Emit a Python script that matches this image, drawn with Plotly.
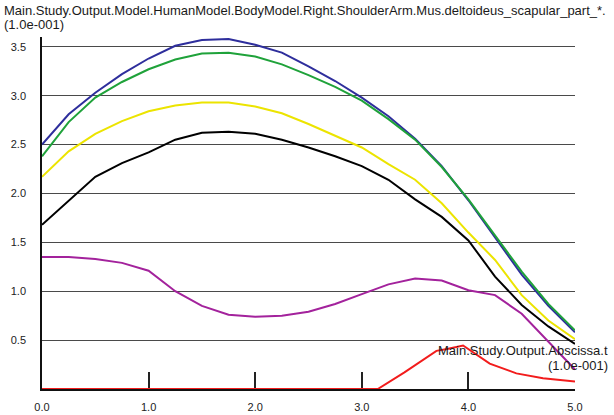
import plotly.graph_objects as go

# Time samples (1.0e-001 s)
t = [0.0, 0.25, 0.5, 0.75, 1.0, 1.25, 1.5, 1.75, 2.0, 2.25, 2.5,
     2.75, 3.0, 3.25, 3.5, 3.75, 4.0, 4.25, 4.5, 4.75, 5.0]

# Muscle outputs for the five deltoideus scapular parts (1.0e-001)
part_blue = [2.50, 2.81, 3.03, 3.22, 3.38, 3.51, 3.57, 3.58, 3.52, 3.44, 3.30,
             3.15, 2.98, 2.79, 2.56, 2.28, 1.93, 1.55, 1.17, 0.85, 0.58]
part_green = [2.38, 2.73, 2.98, 3.14, 3.27, 3.37, 3.43, 3.44, 3.40, 3.32, 3.21,
              3.09, 2.95, 2.76, 2.55, 2.27, 1.94, 1.57, 1.20, 0.87, 0.60]
part_yellow = [2.17, 2.43, 2.61, 2.74, 2.84, 2.90, 2.93, 2.93, 2.89, 2.82, 2.71,
               2.59, 2.47, 2.30, 2.14, 1.90, 1.60, 1.32, 0.96, 0.70, 0.51]
part_black = [1.68, 1.93, 2.17, 2.31, 2.42, 2.55, 2.62, 2.63, 2.61, 2.55, 2.47,
              2.38, 2.28, 2.14, 1.94, 1.76, 1.52, 1.15, 0.86, 0.64, 0.46]
part_purple = [1.35, 1.35, 1.33, 1.29, 1.21, 1.00, 0.85, 0.76, 0.74, 0.75, 0.79,
               0.87, 0.97, 1.07, 1.13, 1.11, 1.01, 0.96, 0.77, 0.48, 0.20]

# Sixth part, sampled where it changes
t_red = [0.0, 3.15, 3.4, 3.7, 3.8, 3.95, 4.2, 4.45, 4.7, 4.85, 5.0]
part_red = [0.0, 0.0, 0.17, 0.39, 0.41, 0.445, 0.26, 0.16, 0.11, 0.09, 0.077]

x_ticks = [0.0, 1.0, 2.0, 3.0, 4.0, 5.0]
y_ticks = [0.5, 1.0, 1.5, 2.0, 2.5, 3.0, 3.5]

FONT = "Liberation Sans, Arial, sans-serif"

series = [
    (t, part_black, "#000000"),
    (t, part_yellow, "#ece400"),
    (t, part_purple, "#a3229c"),
    (t, part_blue, "#2e2e9c"),
    (t, part_green, "#1fa23a"),
    (t_red, part_red, "#f21c1c"),
]

fig = go.Figure()
for xs, ys, col in series:
    fig.add_trace(go.Scatter(x=xs, y=ys, mode="lines",
                             line=dict(color=col, width=2),
                             showlegend=False, hoverinfo="skip"))

fig.update_layout(
    width=614, height=415,
    margin=dict(l=42, r=39, t=37, b=26, pad=0, autoexpand=False),
    paper_bgcolor="white", plot_bgcolor="white",
    font=dict(family=FONT, size=11, color="#222222"),
    xaxis=dict(
        range=[0, 5], tickvals=x_ticks,
        ticktext=[f"{v:.1f}" for v in x_ticks],
        ticks="inside", ticklen=17, tickwidth=1.5, tickcolor="#222222",
        ticklabelstandoff=7, automargin=False,
        showline=True, linecolor="#111111", linewidth=1.5,
        showgrid=False, zeroline=False, layer="below traces",
        tickfont=dict(size=11, color="#222222"),
    ),
    yaxis=dict(
        range=[0, 3.6], tickvals=y_ticks,
        ticktext=[f"{v:.1f}" for v in y_ticks],
        ticks="", ticklabelstandoff=12, automargin=False,
        showline=True, linecolor="#111111", linewidth=1.5,
        showgrid=True, gridcolor="#4a4a4a", gridwidth=1.3,
        zeroline=False, layer="below traces",
        tickfont=dict(size=11, color="#222222"),
    ),
)

def px_x(p):
    return (p - 42) / 533.0

def px_y(p):
    return (389 - p) / 352.0

notes = [
    ("Main.Study.Output.Model.HumanModel.BodyModel.Right.ShoulderArm.Mus.deltoideus_scapular_part_*.",
     2, 11, "left"),
    ("(1.0e-001)", 2, 25, "left"),
    ("Main.Study.Output.Abscissa.t", 610, 350, "right"),
    ("(1.0e-001)", 610, 365, "right"),
]
for text, xp, yp, anchor in notes:
    fig.add_annotation(text=text, xref="paper", yref="paper",
                       x=px_x(xp), y=px_y(yp), xanchor=anchor, yanchor="middle",
                       showarrow=False,
                       font=dict(family=FONT, size=13, color="#1a1a1a"))

fig.write_html("out.html")
